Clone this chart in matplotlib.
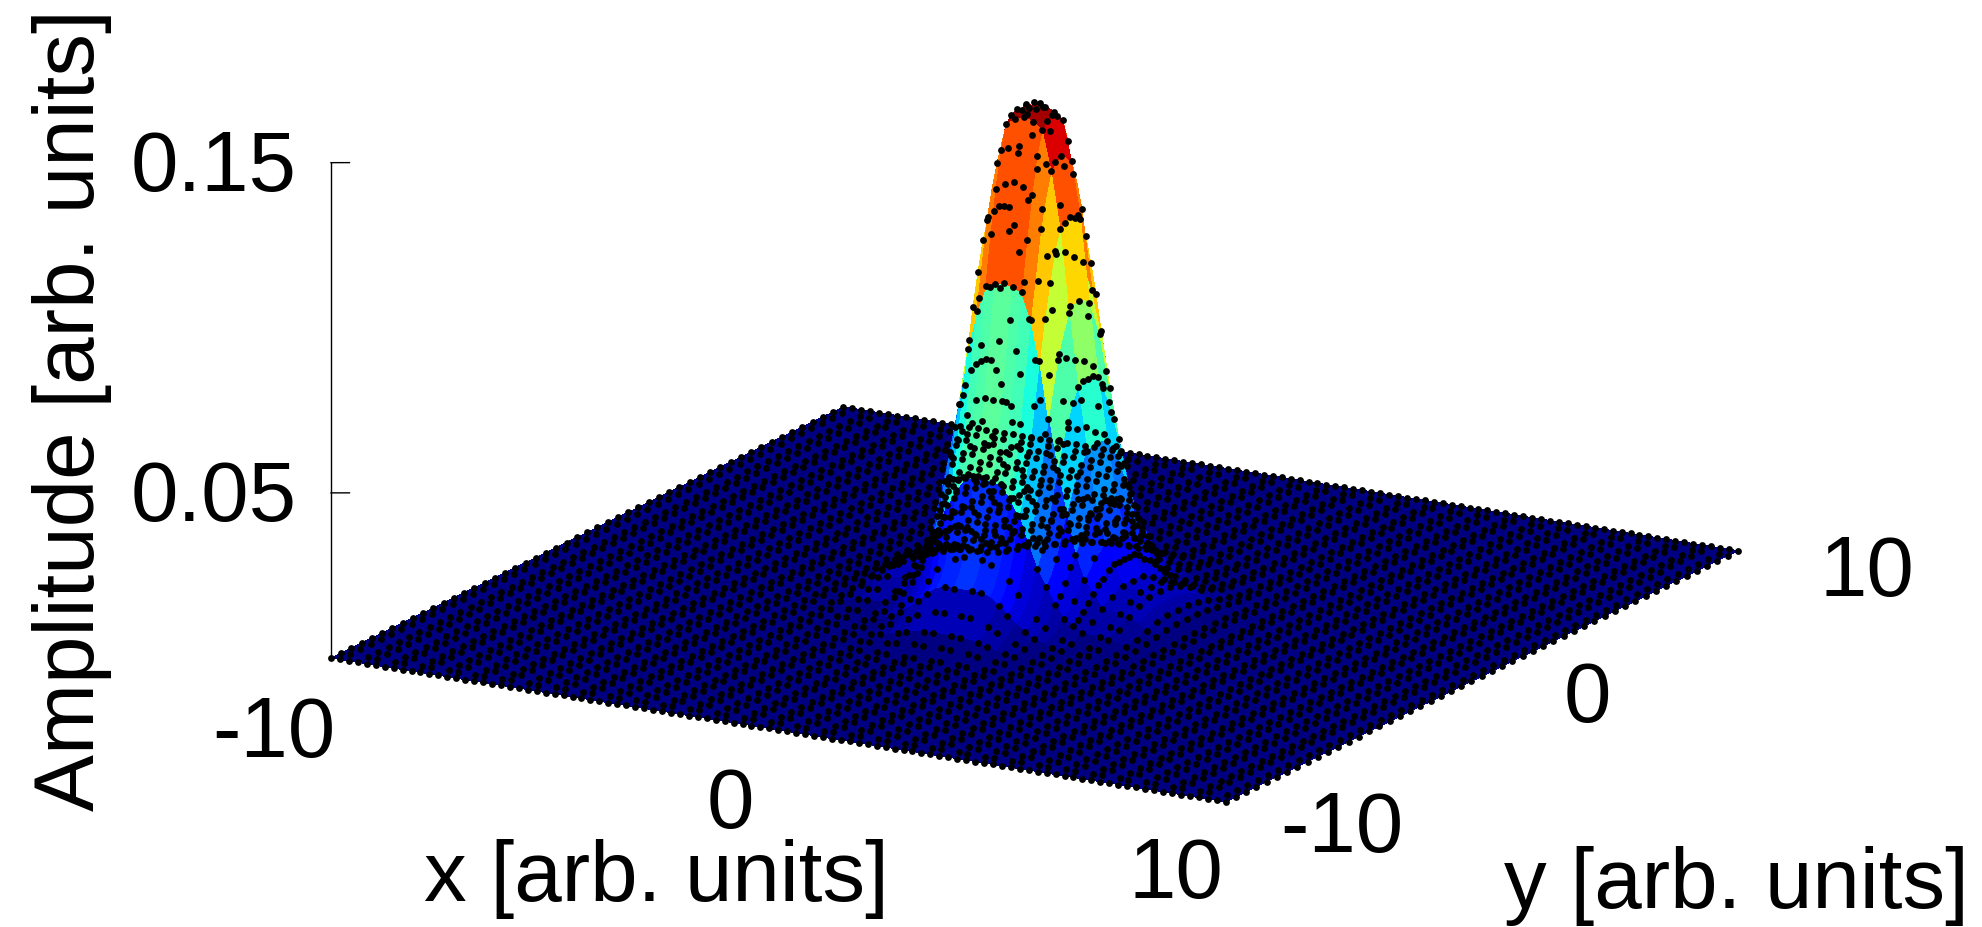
import numpy as np
import matplotlib
matplotlib.use("Agg")
import matplotlib.pyplot as plt
from mpl_toolkits.mplot3d import proj3d

plt.rcParams["font.family"] = ["Liberation Sans", "DejaVu Sans"]

# --- Data ---
# sampling points of the black dots, the surface uses part of them
x_nodes = np.arange(-50, 51) * 0.2
y_nodes = np.arange(-50, 51) * 0.2

# amplitude * 1000 for the quadrant x, y = 0, 0.2 ... 4.0 (rows are y)
z_quadrant = [
    [152, 151, 149, 137, 119, 94, 71, 52, 35, 24, 18, 12, 11, 11, 10, 7.6, 5.3, 3, 1.8, 1.2, 0.9],
    [151, 150, 148, 136, 118, 94, 71, 52, 35, 24, 18, 12, 11, 11, 10, 7.6, 5.3, 3, 1.8, 1.2, 0.9],
    [149, 148, 146, 134, 117, 92, 70, 51, 34, 24, 18, 12, 11, 11, 9.8, 7.4, 5.2, 2.9, 1.8, 1.2, 0.9],
    [141, 140, 139, 127, 111, 87, 66, 48, 33, 22, 17, 11, 10, 10, 9.3, 7.1, 4.9, 2.8, 1.7, 1.1, 0.8],
    [131, 130, 128, 118, 102, 81, 61, 45, 30, 21, 15, 10, 9.5, 9.5, 8.6, 6.5, 4.6, 2.6, 1.5, 1, 0.8],
    [117, 116, 115, 105, 92, 72, 55, 40, 27, 18, 14, 9.2, 8.5, 8.5, 7.7, 5.9, 4.1, 2.3, 1.4, 0.9, 0.7],
    [102, 101, 100, 92, 80, 63, 48, 35, 23, 16, 12, 8, 7.4, 7.4, 6.7, 5.1, 3.6, 2, 1.2, 0.8, 0.6],
    [85, 85, 83, 77, 67, 53, 40, 29, 20, 13, 10, 6.7, 6.2, 6.2, 5.6, 4.3, 3, 1.7, 1, 0.7, 0.5],
    [68, 68, 67, 62, 54, 42, 32, 23, 16, 11, 8.1, 5.4, 5, 5, 4.5, 3.4, 2.4, 1.4, 0.8, 0.5, 0.4],
    [55, 54, 54, 49, 43, 34, 26, 19, 13, 8.6, 6.5, 4.3, 4, 4, 3.6, 2.7, 1.9, 1.1, 0.6, 0.4, 0.3],
    [46, 45, 45, 41, 36, 28, 21, 16, 11, 7.2, 5.4, 3.6, 3.3, 3.3, 3, 2.3, 1.6, 0.9, 0.5, 0.4, 0.3],
    [32, 32, 31, 29, 25, 20, 15, 11, 7.4, 5, 3.8, 2.5, 2.3, 2.3, 2.1, 1.6, 1.1, 0.6, 0.4, 0.3, 0.2],
    [23, 23, 22, 21, 18, 14, 11, 7.8, 5.3, 3.6, 2.7, 1.8, 1.7, 1.7, 1.5, 1.1, 0.8, 0.5, 0.3, 0.2, 0.1],
    [18, 18, 18, 16, 14, 11, 8.5, 6.2, 4.2, 2.9, 2.2, 1.4, 1.3, 1.3, 1.2, 0.9, 0.6, 0.4, 0.2, 0.1, 0.1],
    [15, 15, 15, 14, 12, 9.4, 7.1, 5.2, 3.5, 2.4, 1.8, 1.2, 1.1, 1.1, 1, 0.8, 0.5, 0.3, 0.2, 0.1, 0.1],
    [12, 12, 12, 11, 9.5, 7.5, 5.7, 4.2, 2.8, 1.9, 1.4, 1, 0.9, 0.9, 0.8, 0.6, 0.4, 0.2, 0.1, 0.1, 0.1],
    [9.1, 9.1, 8.9, 8.2, 7.1, 5.6, 4.3, 3.1, 2.1, 1.4, 1.1, 0.7, 0.7, 0.7, 0.6, 0.5, 0.3, 0.2, 0.1, 0.1, 0.1],
    [6.1, 6, 6, 5.5, 4.8, 3.8, 2.8, 2.1, 1.4, 1, 0.7, 0.5, 0.4, 0.4, 0.4, 0.3, 0.2, 0.1, 0.1, 0, 0],
    [4.6, 4.5, 4.5, 4.1, 3.6, 2.8, 2.1, 1.6, 1.1, 0.7, 0.5, 0.4, 0.3, 0.3, 0.3, 0.2, 0.2, 0.1, 0.1, 0, 0],
    [3, 3, 3, 2.7, 2.4, 1.9, 1.4, 1, 0.7, 0.5, 0.4, 0.2, 0.2, 0.2, 0.2, 0.2, 0.1, 0.1, 0, 0, 0],
    [2.3, 2.3, 2.2, 2.1, 1.8, 1.4, 1.1, 0.8, 0.5, 0.4, 0.3, 0.2, 0.2, 0.2, 0.2, 0.1, 0.1, 0, 0, 0, 0],
]

z_ticks = [0.05, 0.15]
z_tick_labels = ["0.05", "0.15"]
x_tick_labels = ["-10", "0", "10"]
y_tick_labels = ["-10", "0", "10"]

# mirror the quadrant and put it in the middle of the flat plane
Q = np.array(z_quadrant) * 1e-3
top = np.hstack([Q[:0:-1, :0:-1], Q[:0:-1, :]])
bottom = np.hstack([Q[:, :0:-1], Q])
core = np.vstack([top, bottom])
Z = np.zeros((len(y_nodes), len(x_nodes)))
Z[30:71, 30:71] = core
X, Y = np.meshgrid(x_nodes, y_nodes)

# which nodes carry a dot: thinned on the plane, more on the peak, all on the y edges
jj, ii = np.indices(Z.shape)
keep = (jj % 2 == 0) & (ii % 3 != 2)
keep[0, :] = True
keep[-1, :] = True
keep[40:61, 40:61] = ((jj % 2 == 0) | (ii % 2 == 0))[40:61, 40:61]

W, H = 1983, 928
fig = plt.figure(figsize=(W / 100, H / 100), dpi=100)
size = 1600
ax = fig.add_axes([0, 0, size / W, size / H], projection="3d", computed_zorder=False)
ax.set_proj_type("ortho")
ax.view_init(elev=16.3, azim=-60.2)
ax.set_xlim(-10, 10)
ax.set_ylim(-10, 10)
ax.set_zlim(0, 0.16)
ax.set_box_aspect((1, 1, 0.534))
ax.set_axis_off()

# long facets along y, narrow along x
ax.plot_surface(X, Y, Z, rstride=4, cstride=1, cmap=plt.get_cmap("jet", 64),
                vmin=0, vmax=0.155, linewidth=0, antialiased=False,
                shade=False, zorder=1)
ax.scatter(X[keep], Y[keep], Z[keep], s=24, c="black", linewidths=0,
           depthshade=False, zorder=2)

# z axis on the left corner, ticks point to the right on screen
ax.plot([-10, -10], [-10, -10], [0, 0.15], color="black", lw=1.0, zorder=3)
for zt in z_ticks:
    ax.plot([-10, -9.69], [-10, -9.82], [zt, zt], color="black", lw=1.0, zorder=3)


def to_px(x, y, z):
    px, py, _ = proj3d.proj_transform(x, y, z, ax.get_proj())
    return ax.transData.transform((px, py))


# fit the box on the corners seen in the picture (pixels from bottom left)
fig.canvas.draw()
left_px = np.array([331, H - 659])
right_px = np.array([1738, H - 553])
a, b = to_px(-10, -10, 0), to_px(10, 10, 0)
size = size * np.linalg.norm(right_px - left_px) / np.linalg.norm(b - a)
ax.set_position([0, 0, size / W, size / H])
fig.canvas.draw()
off = left_px - to_px(-10, -10, 0)
ax.set_position([off[0] / W, off[1] / H, size / W, size / H])


def label(u, v, s, fs=61.5, **kw):
    fig.text(u / W, 1 - v / H, s, fontsize=fs, ha="center", va="center", **kw)


label(214, 499, z_tick_labels[0])
label(214, 169, z_tick_labels[1])
label(274, 735, x_tick_labels[0])
label(730, 806, x_tick_labels[1])
label(1176, 876, x_tick_labels[2])
label(1342, 830, y_tick_labels[0])
label(1587, 700, y_tick_labels[1])
label(1867, 574, y_tick_labels[2])
label(656, 879, "x [arb. units]")
label(1736, 886, "y [arb. units]")
label(72, 410, "Amplitude [arb. units]", fs=61.5, rotation=90)

fig.savefig("out.png", dpi=100)
